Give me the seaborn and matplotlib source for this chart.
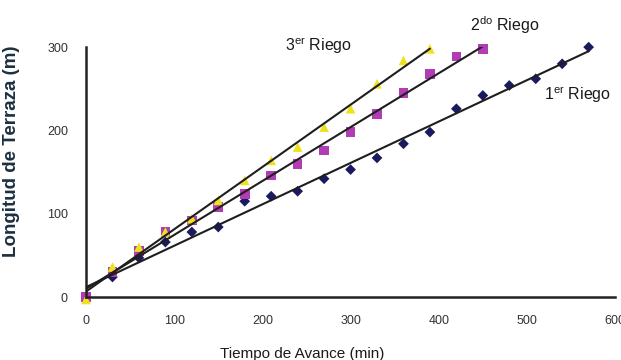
import numpy as np
import pandas as pd
import matplotlib
matplotlib.use("Agg")
import matplotlib.pyplot as plt
import seaborn as sns

# Data
t1 = [0, 30, 60, 90, 120, 150, 180, 210, 240, 270, 300, 330, 360, 390, 420, 450, 480, 510, 540, 570]
l1 = [0, 24, 47, 66, 78, 84, 115, 121, 127, 142, 153, 167, 184, 198, 226, 242, 254, 262, 280, 300]

t2 = [0, 30, 60, 90, 120, 150, 180, 210, 240, 270, 300, 330, 360, 390, 420, 450]
l2 = [0, 30, 55, 78, 92, 108, 124, 146, 160, 176, 198, 220, 245, 268, 289, 298]

t3 = [0, 30, 60, 90, 120, 150, 180, 210, 240, 270, 300, 330, 360, 390]
l3 = [-3, 36, 60, 78, 94, 116, 140, 164, 180, 204, 226, 256, 284, 298]

series_names = ["1$^{\\mathrm{er}}$ Riego", "2$^{\\mathrm{do}}$ Riego", "3$^{\\mathrm{er}}$ Riego"]
x_ticks = [0, 100, 200, 300, 400, 500, 600]
y_ticks = [0, 100, 200, 300]

sns.set_style("white")
plt.rcParams["font.family"] = ["Liberation Sans", "DejaVu Sans"]
plt.rcParams["mathtext.fontset"] = "custom"
plt.rcParams["mathtext.rm"] = "Liberation Sans"
plt.rcParams["mathtext.it"] = "Liberation Sans:italic"
plt.rcParams["mathtext.bf"] = "Liberation Sans:bold"

fig = plt.figure(figsize=(6.21, 3.6), dpi=100)
ax = fig.add_axes([0.1385, 0.175, 0.852, 0.694])

specs = [
    (t1, l1, "#1c1a5e", "D", 30),
    (t2, l2, "#b23cb4", "s", 48),
    (t3, l3, "#eee21c", "^", 48),
]
for t, l, col, mk, sz in specs:
    df = pd.DataFrame({"t": t, "l": l})
    sns.scatterplot(data=df, x="t", y="l", ax=ax, color=col, marker=mk, s=sz,
                    edgecolor="none", clip_on=False, zorder=2)
    sns.regplot(data=df, x="t", y="l", ax=ax, scatter=False, ci=None, truncate=True,
                line_kws=dict(color="#1e1e1e", lw=1.5, zorder=3))

ax.set_xlim(0, 600)
ax.set_ylim(0, 300)
ax.set_xticks(x_ticks)
ax.set_yticks(y_ticks)
ax.tick_params(axis="both", direction="out", length=3, width=1.2, colors="#222222",
               labelsize=9, labelcolor="#333333")
ax.tick_params(axis="x", pad=10)
ax.tick_params(axis="y", pad=10)
for s in ["top", "right"]:
    ax.spines[s].set_visible(False)
for s in ["left", "bottom"]:
    ax.spines[s].set_color("#222222")
    ax.spines[s].set_linewidth(1.8)

ax.set_xlabel("Tiempo de Avance (min)", fontsize=11, color="#1a1a1a")
ax.xaxis.set_label_coords(0.408, -0.2)
ax.set_ylabel("Longitud de Terraza (m)", fontsize=13.5, fontweight="bold", color="#1c3040")
ax.yaxis.set_label_coords(-0.125, 0.584)

ax.text(226, 302, series_names[2], fontsize=11.5, color="#1a1a1a", va="center", clip_on=False)
ax.text(435, 326, series_names[1], fontsize=11.5, color="#1a1a1a", va="center", clip_on=False)
ax.text(519, 243, series_names[0], fontsize=11.5, color="#1a1a1a", va="center", clip_on=False)

fig.savefig("out.png", dpi=100)
